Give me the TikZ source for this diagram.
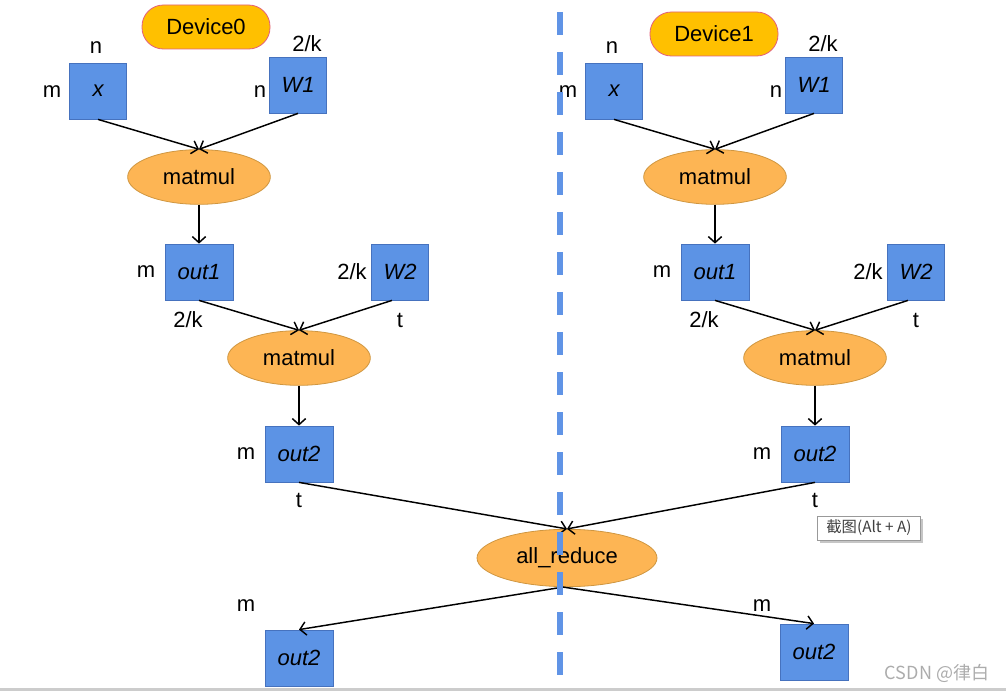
\documentclass[tikz,border=0pt]{standalone}
\usepackage{fontspec}
\setmainfont{Liberation Sans}
\newfontfamily\cjk{Noto Sans CJK SC}
\usetikzlibrary{arrows.meta,shapes.geometric,shadows}
\definecolor{boxblue}{HTML}{5C93E5}
\definecolor{boxedge}{HTML}{4672BE}
\definecolor{opfill}{HTML}{FDB554}
\definecolor{opedge}{HTML}{CF9640}
\definecolor{devfill}{HTML}{FFC000}
\definecolor{devedge}{HTML}{E2607C}
\definecolor{splitblue}{HTML}{6094E6}

\begin{document}
\begin{tikzpicture}[
    x=0.75pt, y=-0.75pt,
    ->,
    >={Straight Barb[length=4.5pt,width=10pt]},
    line width=1.1pt,
    font=\fontsize{16.5}{20}\selectfont,
    tensor/.style={
        rectangle,
        draw=boxedge,
        fill=boxblue,
        line width=0.6pt,
        minimum width=43pt,
        minimum height=42pt,
        font=\fontsize{16.5}{20}\selectfont\itshape,
    },
    wide/.style={
        tensor,
        minimum width=51pt,
    },
    op/.style={
        ellipse,
        draw=opedge,
        fill=opfill,
        line width=0.6pt,
        minimum width=107pt,
        minimum height=41pt,
    },
    device/.style={
        rectangle,
        rounded corners=16pt,
        draw=devedge,
        fill=devfill,
        line width=0.6pt,
        minimum width=96pt,
        minimum height=33pt,
    },
    dim/.style={
        inner sep=0pt,
    },
    tip/.style={
        rectangle,
        draw=gray!80,
        fill=white,
        line width=0.5pt,
        minimum width=77pt,
        minimum height=18pt,
        inner sep=1pt,
        text=black!75,
        font=\cjk\fontsize{11.5}{13}\selectfont,
        drop shadow={shadow xshift=2pt, shadow yshift=-2pt, fill=gray!45, opacity=1},
    },
]
    \useasboundingbox (0,0) rectangle (1006,691);

    % one column per device
    \foreach \d/\s in {0/0,1/516} {
    \begin{scope}[shift={(\s,0)}]
        \node[tensor] (x\d)   at (98,91)   {x};
        \node[tensor] (wa\d)  at (298,85)  {W1};
        \node[op]     (mma\d) at (199,177) {matmul};
        \node[wide]   (oa\d)  at (199,272) {out1};
        \node[tensor] (wb\d)  at (400,272) {W2};
        \node[op]     (mmb\d) at (299,358) {matmul};
        \node[wide]   (ob\d)  at (299,454) {out2};

        \node[dim] (xm\d)  at (52,92)   {m};
        \node[dim] (xn\d)  at (96,48)   {n};
        \node[dim] (wan\d) at (260,92)  {n};
        \node[dim] (wak\d) at (307,44)  {2/k};
        \node[dim] (oam\d) at (146,272) {m};
        \node[dim] (oak\d) at (188,320) {2/k};
        \node[dim] (wbk\d) at (352,272) {2/k};
        \node[dim] (wbt\d) at (400,320) {t};
        \node[dim] (obm\d) at (246,454) {m};
        \node[dim] (obt\d) at (299,500) {t};

        \path
        (x\d.south)  edge (mma\d.north)
        (wa\d.south) edge (mma\d.north)
        (mma\d.south) edge (oa\d.north)
        (oa\d.south) edge (mmb\d.north)
        ([xshift=-6pt]wb\d.south) edge (mmb\d.north)
        (mmb\d.south) edge (ob\d.north);
    \end{scope}
    }

    \node[device] (dev0) at (206,27) {Device0};
    \node[device] (dev1) at (714,34) {Device1};

    \node[op, minimum width=135pt, minimum height=43pt] (ar) at (567,558) {all\_reduce};
    \node[wide] (res0) at (299,658) {out2};
    \node[wide] (res1) at (814,652) {out2};
    \node[dim] (resm0) at (246,606) {m};
    \node[dim] (resm1) at (762,606) {m};

    \path
    (ob0.south) edge (ar.north)
    (ob1.south) edge (ar.north)
    ([xshift=-3pt]ar.south) edge (res0.north)
    ([xshift=-3pt]ar.south) edge (res1.north);

    % split between devices
    \coordinate (cuttop) at (560,12);
    \coordinate (cutbot) at (560,676);
    \draw[-, line width=4pt, splitblue, dash pattern=on 17.25pt off 12.75pt] (cuttop) -- (cutbot);

    \node[tip] (hint) at (869,528) {截图(Alt + A)};
    \node[dim, text=gray!65, font=\cjk\fontsize{13.5}{15}\selectfont] (mark) at (937,673) {CSDN @律白};
    \fill[-, gray!40] (0,688) rectangle (1006,691);
\end{tikzpicture}
\end{document}
